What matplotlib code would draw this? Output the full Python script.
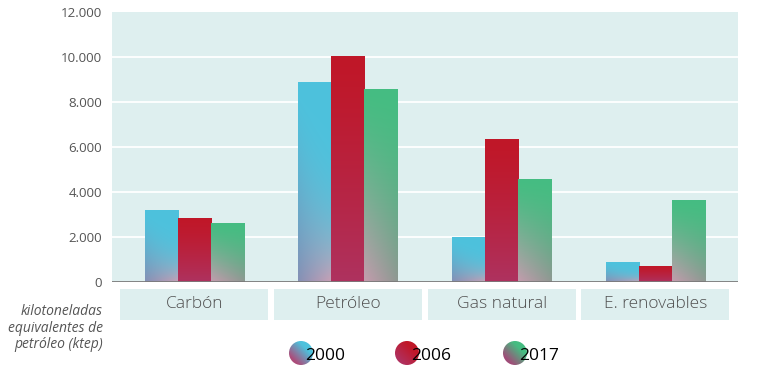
import numpy as np
import matplotlib
matplotlib.use("Agg")
import matplotlib.pyplot as plt
from matplotlib.patches import Rectangle, Circle
from matplotlib.transforms import blended_transform_factory
from matplotlib.ticker import FixedLocator, FuncFormatter

plt.rcParams['font.family'] = ['Open Sans', 'DejaVu Sans']

# ---- data ----
categories = ["Carbón", "Petróleo", "Gas natural", "E. renovables"]
series = ["2000", "2006", "2017"]
values_2000 = [3180, 8870, 1990, 870]
values_2006 = [2830, 10030, 6340, 710]
values_2017 = [2580, 8560, 4560, 3630]
y_ticks = [0, 2000, 4000, 6000, 8000, 10000, 12000]
unit_label = "kilotoneladas\nequivalentes de\npetróleo (ktep)"

values = [values_2000, values_2006, values_2017]

# ---- styles ----
# top colour, bottom-left colour, bottom-right colour, exponents (left,right)
grad_styles = [
    ((77, 194, 221), (133, 144, 181), (201, 160, 181), (1.5, 3.5)),
    ((192, 23, 40), (174, 50, 95), (174, 50, 95), (1.3, 1.3)),
    ((69, 189, 130), (197, 156, 174), (143, 152, 146), (1.4, 1.6)),
]
legend_mauve = [(172, 76, 122), (176, 48, 94), (160, 76, 120)]
BG = "#deefef"
TXT = "#555555"


def bar_gradient(style, nx=40, ny=120):
    top, bl, br, (pl, pr) = [np.array(s, float) if i < 3 else s for i, s in enumerate(style)]
    u = np.linspace(0, 1, nx)[None, :]
    v = np.linspace(1, 0, ny)[:, None]  # row 0 is top (v=1)
    p = pl * (1 - u) + pr * u
    w = (1 - v) ** p
    bottom = bl[None, None, :] * (1 - u)[..., None] + br[None, None, :] * u[..., None]
    img = top[None, None, :] * (1 - w)[..., None] + bottom * w[..., None]
    return np.clip(img / 255.0, 0, 1)


def circle_gradient(top, mauve, n=60):
    top = np.array(top, float)
    mauve = np.array(mauve, float)
    u = np.linspace(0, 1, n)[None, :]
    v = np.linspace(1, 0, n)[:, None]
    t = ((1 - u) + (1 - v)) / 2.0
    w = np.clip((t - 0.3) / 0.5, 0, 1)
    img = top * (1 - w)[..., None] + mauve * w[..., None]
    return np.clip(img / 255.0, 0, 1)


fig = plt.figure(figsize=(7.75, 3.69), dpi=100)
ax = fig.add_axes([0.1441, 0.2350, 0.8077, 0.7325])
ax.set_facecolor(BG)
for s in ax.spines.values():
    s.set_visible(False)

x = np.arange(len(categories))
width = 0.2147
offsets = [-width, 0, width]

for k, (vals, style) in enumerate(zip(values, grad_styles)):
    bars = ax.bar(x + offsets[k], vals, width, facecolor="none", edgecolor="none", zorder=3)
    img = bar_gradient(style)
    for b in bars:
        x0, y0 = b.get_x(), b.get_y()
        ax.imshow(img, extent=(x0, x0 + b.get_width(), y0, y0 + b.get_height()),
                  aspect='auto', interpolation='bilinear', zorder=3)

ax.set_xlim(-0.537, 3.535)
ax.set_ylim(0, 12000)
ax.yaxis.set_major_locator(FixedLocator(y_ticks))
ax.yaxis.set_major_formatter(FuncFormatter(lambda v, p: f"{int(v):,}".replace(",", ".")))
ax.set_xticks([])
ax.tick_params(axis='y', length=0, pad=7, labelsize=9.6, labelcolor=TXT)
for t in y_ticks[1:-1]:
    ax.axhline(t, color="white", lw=1.3, zorder=1)
ax.axhline(0, color="#7a7a7a", lw=2.0, zorder=4)

# category boxes below axis
trans = blended_transform_factory(ax.transData, ax.transAxes)
for i, cat in enumerate(categories):
    ax.add_patch(Rectangle((x[i] - 0.481, -0.1395), 0.962, 0.1158, transform=trans,
                           facecolor=BG, edgecolor="none", clip_on=False))
    ax.text(x[i], -0.0814, cat, transform=trans, ha="center", va="center",
            fontsize=12.5, color="#505050", fontweight="light")

fig.text(103 / 775, 1 - 328 / 369, unit_label, ha="right", va="center",
         fontsize=10, style="italic", color=TXT, linespacing=1.12)

# legend overlay in pixel coordinates
lax = fig.add_axes([0, 0, 1, 1])
lax.set_xlim(0, 775)
lax.set_ylim(369, 0)
lax.axis("off")
leg_x = [301, 407, 515]
leg_y = 353
r = 12
for k, name in enumerate(series):
    cx = leg_x[k]
    circ = Circle((cx, leg_y), r, facecolor="none", edgecolor="none")
    lax.add_patch(circ)
    im = lax.imshow(circle_gradient(grad_styles[k][0], legend_mauve[k]),
                    extent=(cx - r, cx + r, leg_y + r, leg_y - r),
                    aspect='auto', interpolation='bilinear')
    im.set_clip_path(circ)
    lax.text(cx + 4, leg_y + 3, name, ha="left", va="center", fontsize=12.5, color="black")

fig.savefig("out.png", dpi=100)
